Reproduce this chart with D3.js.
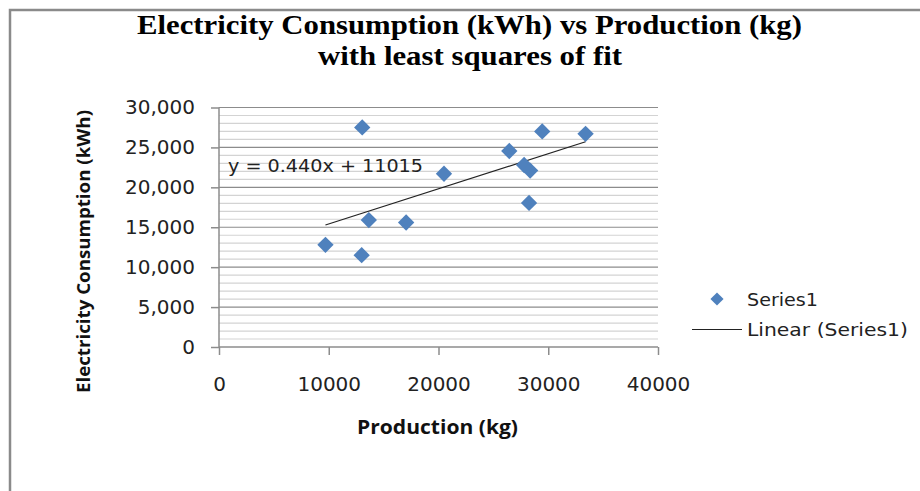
<!DOCTYPE html>
<html>
<head>
<meta charset="utf-8">
<script src="https://cdn.jsdelivr.net/npm/d3@7"></script>
<style>
  body { margin: 0; background: #fff; }
  svg { display: block; }
</style>
</head>
<body>
<div id="chart"></div>
<script>
// production (kg) vs electricity consumption (kWh)
var production = [9700, 13050, 13650, 13000, 17050, 20500, 26450, 27800, 28350, 28250, 29450, 33400];
var consumption = [12800, 27500, 15900, 11500, 15600, 21700, 24550, 22800, 22100, 18050, 27000, 26700];

// fit printed on the chart
var slope = 0.440;
var intercept = 11015;

var xTicks = [0, 10000, 20000, 30000, 40000];
var yTicks = [0, 5000, 10000, 15000, 20000, 25000, 30000];
var yMinor = d3.range(0, 30001, 1000);

const w = 920;
const h = 491;

const dataset = production.map((p, i) => ({ x: p, y: consumption[i] }));

const svg = d3.select('#chart').append('svg').attr('width', w).attr('height', h);

// outer chart frame (runs off the right and bottom)
svg.append('path').attr('d', 'M10,' + h + 'V10H' + w)
  .attr('fill', 'none').attr('stroke', '#8a8a8a').attr('stroke-width', 2.5);

const xScale = d3.scaleLinear().domain([0, 40000]).range([219, 658]);
const yScale = d3.scaleLinear().domain([0, 30000]).range([347, 107.5]);

// title
const title = svg.append('g').attr('font-family', '"Liberation Serif", "Times New Roman", serif')
  .attr('font-weight', 'bold').attr('font-size', 27).attr('fill', '#000');
title.append('text').attr('x', 469.5).attr('y', 34).attr('text-anchor', 'middle')
  .attr('textLength', 665).attr('lengthAdjust', 'spacingAndGlyphs')
  .text('Electricity Consumption (kWh) vs Production (kg)');
title.append('text').attr('x', 470).attr('y', 65).attr('text-anchor', 'middle')
  .attr('textLength', 304).attr('lengthAdjust', 'spacingAndGlyphs')
  .text('with least squares of fit');

// gridlines
svg.append('g').selectAll('line').data(yMinor.filter((d) => d % 5000 !== 0)).enter().append('line')
  .attr('x1', xScale(0)).attr('x2', xScale(40000))
  .attr('y1', (d) => yScale(d)).attr('y2', (d) => yScale(d))
  .attr('stroke', '#d3d3d3').attr('stroke-width', 1.2);

svg.append('g').selectAll('line').data(yTicks.filter((d) => d > 0)).enter().append('line')
  .attr('x1', xScale(0)).attr('x2', xScale(40000))
  .attr('y1', (d) => yScale(d)).attr('y2', (d) => yScale(d))
  .attr('stroke', '#8c8c8c').attr('stroke-width', 1.2);

// axes
const yAxis = d3.axisLeft(yScale).tickValues(yTicks).tickSize(8).tickPadding(16)
  .tickFormat(d3.format(','));
const xAxis = d3.axisBottom(xScale).tickValues(xTicks).tickSize(8).tickPadding(22)
  .tickFormat(d3.format('d'));

const gy = svg.append('g').attr('transform', 'translate(' + xScale(0) + ',0)').call(yAxis);
const gx = svg.append('g').attr('transform', 'translate(0,' + yScale(0) + ')').call(xAxis);

[gx, gy].forEach((g) => {
  g.select('.domain').attr('stroke', '#8c8c8c').attr('stroke-width', 1.5);
  g.selectAll('.tick line').attr('stroke', '#8c8c8c').attr('stroke-width', 1.5);
  g.selectAll('.tick text').attr('font-family', '"DejaVu Sans", sans-serif')
    .attr('font-size', 20).attr('fill', '#222');
});
gx.select('.domain').attr('d', 'M' + xScale(0) + ',0H' + xScale(40000));
gy.select('.domain').attr('d', 'M0,' + yScale(30000) + 'V' + yScale(0));
gx.selectAll('.tick text').attr('dy', '0.71em');

// axis titles
svg.append('text').attr('x', 437.5).attr('y', 434).attr('text-anchor', 'middle')
  .attr('font-family', '"Open Sans", sans-serif').attr('font-weight', 'bold').attr('font-size', 19.5)
  .attr('fill', '#111').attr('textLength', 161).attr('lengthAdjust', 'spacingAndGlyphs')
  .text('Production (kg)');

svg.append('text').attr('transform', 'translate(90,251.5) rotate(-90)').attr('text-anchor', 'middle')
  .attr('font-family', '"Open Sans", sans-serif').attr('font-weight', 'bold').attr('font-size', 17)
  .attr('fill', '#111').attr('textLength', 283).attr('lengthAdjust', 'spacingAndGlyphs')
  .text('Electricity Consumption (kWh)');

// least squares line over the data range
const xMin = d3.min(production);
const xMax = d3.max(production);
svg.append('line')
  .attr('x1', xScale(xMin)).attr('y1', yScale(slope * xMin + intercept))
  .attr('x2', xScale(xMax)).attr('y2', yScale(slope * xMax + intercept))
  .attr('stroke', '#222').attr('stroke-width', 1.2);

svg.append('text').attr('x', 228).attr('y', 172)
  .attr('font-family', '"DejaVu Sans", sans-serif').attr('font-size', 18.5).attr('fill', '#222')
  .attr('textLength', 195).attr('lengthAdjust', 'spacingAndGlyphs')
  .text('y = ' + slope.toFixed(3) + 'x + ' + intercept);

// points
const diamond = d3.symbol().type(d3.symbolDiamond2).size(170);
svg.append('g').selectAll('path').data(dataset).enter().append('path')
  .attr('d', diamond)
  .attr('transform', (d) => 'translate(' + xScale(d.x) + ',' + yScale(d.y) + ')')
  .attr('fill', '#4f81bd');

// legend
const legend = svg.append('g').attr('font-family', '"DejaVu Sans", sans-serif')
  .attr('font-size', 18.5).attr('fill', '#222');
legend.append('path').attr('d', d3.symbol().type(d3.symbolDiamond2).size(110))
  .attr('transform', 'translate(717,299)').attr('fill', '#4f81bd');
legend.append('text').attr('x', 747).attr('y', 305.5)
  .attr('textLength', 71).attr('lengthAdjust', 'spacingAndGlyphs').text('Series1');
legend.append('line').attr('x1', 692).attr('x2', 742).attr('y1', 329.5).attr('y2', 329.5)
  .attr('stroke', '#222').attr('stroke-width', 1.2);
legend.append('text').attr('x', 747).attr('y', 335.5)
  .attr('textLength', 161).attr('lengthAdjust', 'spacingAndGlyphs').text('Linear (Series1)');
</script>
</body>
</html>
